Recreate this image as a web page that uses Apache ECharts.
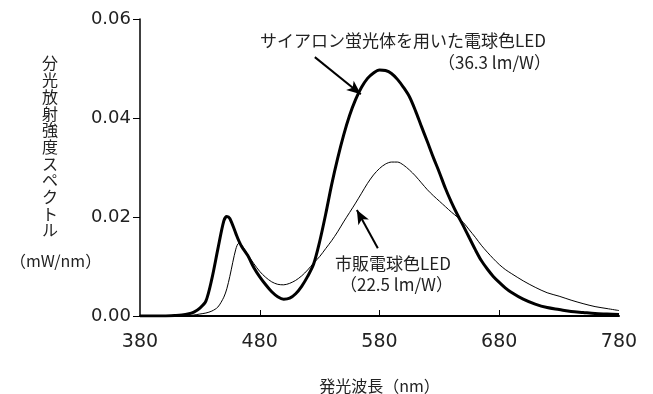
<!DOCTYPE html>
<html>
<head>
<meta charset="utf-8">
<script src="https://cdn.jsdelivr.net/npm/echarts@6/dist/echarts.min.js"></script>
<style>
  html, body { margin: 0; padding: 0; background: #fff; }
  #chart { width: 653px; height: 394px; }
</style>
</head>
<body>
<div id="chart"></div>
<script>
// wavelength (nm)
const wavelengths = [380, 390, 400, 410, 415, 420, 425, 430, 435, 440, 445, 450, 452.5, 455, 460, 462.5, 465, 470, 475, 480,
  485, 490, 495, 500, 505, 510, 515, 520, 525, 530, 535, 540, 545, 550, 555, 560, 565, 570, 575, 580,
  585, 590, 595, 600, 605, 610, 615, 620, 625, 630, 635, 640, 645, 650, 655, 660, 665, 670, 675, 680,
  685, 690, 700, 710, 720, 730, 740, 750, 760, 770, 780]
// サイアロン蛍光体を用いた電球色LED (mW/nm)
const sialonLed = [0, 0, 0, 0.0001, 0.0002, 0.0004, 0.0008, 0.0016, 0.0030, 0.0075, 0.0135, 0.0192, 0.0201, 0.0197, 0.0167, 0.0152, 0.0140, 0.0122, 0.0098, 0.0079,
  0.0063, 0.0049, 0.0039, 0.0034, 0.0036, 0.0045, 0.0060, 0.0080, 0.0105, 0.0150, 0.0205, 0.0265, 0.0318, 0.0365, 0.0405, 0.0437, 0.0462, 0.0480, 0.0491, 0.0497,
  0.0496, 0.0490, 0.0478, 0.0462, 0.0443, 0.0415, 0.0383, 0.0352, 0.0320, 0.0290, 0.0258, 0.0230, 0.0205, 0.0182, 0.0158, 0.0134, 0.0112, 0.0095, 0.0080, 0.0068,
  0.0057, 0.0048, 0.0034, 0.0024, 0.0017, 0.0013, 0.0009, 0.0007, 0.0005, 0.0004, 0.0003]
// 市販電球色LED (mW/nm)
const commercialLed = [0, 0, 0, 0, 0.0001, 0.0001, 0.0002, 0.0004, 0.0006, 0.0010, 0.0018, 0.0038, 0.0055, 0.0080, 0.0135, 0.0147, 0.0143, 0.0124, 0.0106, 0.0090,
  0.0078, 0.0069, 0.0064, 0.0063, 0.0066, 0.0072, 0.0081, 0.0093, 0.0107, 0.0120, 0.0136, 0.0152, 0.0170, 0.0190, 0.0209, 0.0228, 0.0248, 0.0268, 0.0285, 0.0298,
  0.0307, 0.0311, 0.0311, 0.0305, 0.0295, 0.0283, 0.0269, 0.0255, 0.0243, 0.0232, 0.0221, 0.0210, 0.0200, 0.0189, 0.0174, 0.0159, 0.0143, 0.0129, 0.0116, 0.0104,
  0.0094, 0.0086, 0.0071, 0.0058, 0.0047, 0.0040, 0.0032, 0.0025, 0.0019, 0.0015, 0.0011]
const xTicks = [380, 480, 580, 680, 780]
const yTicks = [0, 0.02, 0.04, 0.06]
// arrow annotations [from, to] in data coords
const sialonArrow = [[526, 0.0523], [564.4, 0.0448]]
const commercialArrow = [[578.6, 0.0137], [561.1, 0.0214]]

const FONT = '"Noto Sans CJK JP", "Noto Sans", sans-serif'
const NUM_FONT = '"DejaVu Sans", sans-serif'
const TEXT_COLOR = '#222'

const chart = echarts.init(document.getElementById('chart'))

const arrowLine = (pts) => ({
  silent: true,
  symbol: ['none', 'arrow'],
  symbolSize: [9, 14],
  label: { show: false },
  lineStyle: { color: '#000', width: 2, type: 'solid' },
  data: [[{ coord: pts[0] }, { coord: pts[1] }]]
})

const txt = (text, left, top, size, extra) => ({
  type: 'text', left, top,
  style: Object.assign({ text, fill: TEXT_COLOR, fontSize: size, fontFamily: FONT }, extra || {})
})

chart.setOption({
  animation: false,
  backgroundColor: '#fff',
  grid: { left: 140, right: 34, top: 19, bottom: 78, outerBoundsMode: 'none' },
  xAxis: {
    type: 'value',
    min: xTicks[0],
    max: xTicks[xTicks.length - 1],
    interval: 100,
    name: '発光波長（nm）',
    nameLocation: 'middle',
    nameGap: 62,
    nameTextStyle: { color: TEXT_COLOR, fontSize: 16, fontFamily: FONT },
    axisLine: { lineStyle: { color: '#000', width: 2 } },
    axisTick: { inside: true, length: 6, lineStyle: { color: '#000', width: 1 }, customValues: [480, 580, 680] },
    axisLabel: { color: TEXT_COLOR, fontSize: 19, fontFamily: NUM_FONT, margin: 17, customValues: xTicks },
    splitLine: { show: false }
  },
  yAxis: {
    type: 'value',
    min: 0,
    max: yTicks[yTicks.length - 1],
    interval: 0.02,
    axisLine: { show: true, lineStyle: { color: '#000', width: 1.5 } },
    axisTick: { show: true, length: 7, lineStyle: { color: '#000', width: 1 } },
    axisLabel: {
      color: TEXT_COLOR, fontSize: 18, fontFamily: NUM_FONT, margin: 9,
      formatter: (v) => v.toFixed(2)
    },
    splitLine: { show: false }
  },
  series: [
    {
      name: 'サイアロン蛍光体を用いた電球色LED',
      type: 'line',
      data: wavelengths.map((w, i) => [w, sialonLed[i]]),
      smooth: 0.3,
      showSymbol: false,
      lineStyle: { color: '#000', width: 3 },
      z: 3,
      markLine: arrowLine(sialonArrow)
    },
    {
      name: '市販電球色LED',
      type: 'line',
      data: wavelengths.map((w, i) => [w, commercialLed[i]]),
      smooth: 0.3,
      showSymbol: false,
      lineStyle: { color: '#000', width: 1 },
      z: 2,
      markLine: arrowLine(commercialArrow)
    }
  ],
  graphic: [
    txt('分\n光\n放\n射\n強\n度\nス\nペ\nク\nト\nル', 42, 55, 16, { lineHeight: 16.7 }),
    txt('（mW/nm）', 10, 253, 16),
    txt('サイアロン蛍光体を用いた電球色LED', 260, 32, 17),
    txt('（36.3 lm/W）', 438, 54, 17),
    txt('市販電球色LED', 335, 255, 17),
    txt('（22.5 lm/W）', 340, 276, 17)
  ]
})
</script>
</body>
</html>
